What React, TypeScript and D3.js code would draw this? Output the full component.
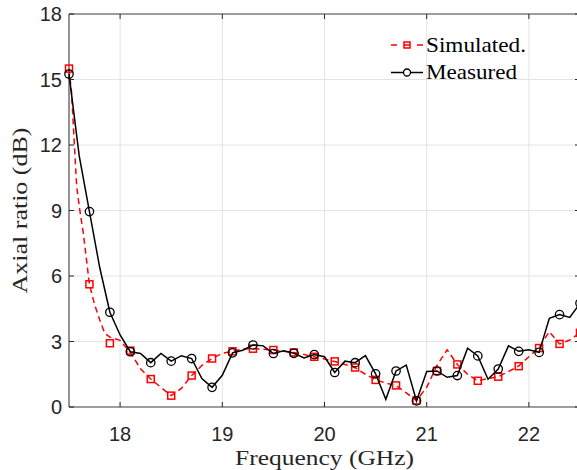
import React from "react";
import * as d3 from "d3";

// Frequencies (GHz) for the line samples
const freqs = [
  17.5, 17.6, 17.7, 17.8, 17.9, 18.0, 18.1, 18.2, 18.3, 18.4, 18.5, 18.6, 18.7, 18.8, 18.9, 19.0,
  19.1, 19.2, 19.3, 19.4, 19.5, 19.6, 19.7, 19.8, 19.9, 20.0, 20.1, 20.2, 20.3, 20.4, 20.5, 20.6,
  20.7, 20.8, 20.9, 21.0, 21.1, 21.2, 21.3, 21.4, 21.5, 21.6, 21.7, 21.8, 21.9, 22.0, 22.1, 22.2,
  22.3, 22.4, 22.5,
];

// Measured axial ratio (dB) at freqs
const measured = [
  15.25, 11.5, 8.95, 6.4, 4.34, 3.3, 2.53, 2.45, 2.03, 2.45, 2.1, 2.35, 2.22, 1.3, 0.9, 1.45,
  2.48, 2.6, 2.84, 2.8, 2.45, 2.58, 2.46, 2.25, 2.4, 2.3, 1.58, 2.1, 2.03, 2.35, 1.52, 0.35,
  1.65, 1.92, 0.28, 1.63, 1.65, 1.36, 1.44, 2.69, 2.34, 1.27, 1.74, 2.8, 2.55, 2.62, 2.5, 4.06,
  4.23, 4.1, 4.75,
];

// Simulated curve samples (GHz, dB)
const simFreqs = [
  17.5, 17.525, 17.575, 17.6, 17.64, 17.7, 17.75, 17.8, 17.85, 17.9, 18.0, 18.1, 18.2, 18.3, 18.4,
  18.5, 18.6, 18.7, 18.8, 18.9, 19.0, 19.1, 19.2, 19.3, 19.4, 19.5, 19.6, 19.7, 19.8, 19.9, 20.0,
  20.1, 20.2, 20.3, 20.4, 20.5, 20.6, 20.7, 20.8, 20.9, 21.0, 21.1, 21.2, 21.3, 21.4, 21.5, 21.6,
  21.7, 21.8, 21.9, 22.0, 22.1, 22.2, 22.3, 22.4, 22.5,
];
const simulated = [
  15.5, 14.4, 10.1, 9.2, 7.96, 5.62, 4.7, 4.0, 3.37, 3.2, 3.05, 2.5, 1.75, 1.28, 0.9,
  0.52, 0.85, 1.44, 1.9, 2.22, 2.46, 2.55, 2.65, 2.68, 2.65, 2.6, 2.55, 2.5, 2.4, 2.3, 2.2,
  2.08, 1.95, 1.8, 1.5, 1.24, 1.1, 0.98, 0.65, 0.3, 0.9, 1.9, 2.62, 1.95, 1.5, 1.2, 1.3,
  1.39, 1.62, 1.88, 2.3, 2.73, 3.45, 2.89, 3.07, 3.4,
];

// Marker positions
const markerFreqs = [
  17.5, 17.7, 17.9, 18.1, 18.3, 18.5, 18.7, 18.9, 19.1, 19.3, 19.5, 19.7, 19.9, 20.1, 20.3,
  20.5, 20.7, 20.9, 21.1, 21.3, 21.5, 21.7, 21.9, 22.1, 22.3, 22.5,
];
const simMarkers = [
  15.5, 5.62, 2.92, 2.58, 1.28, 0.52, 1.44, 2.22, 2.55, 2.67, 2.61, 2.5, 2.3, 2.09, 1.81,
  1.24, 0.99, 0.3, 1.65, 1.95, 1.2, 1.39, 1.87, 2.7, 2.89, 3.4,
];
const measMarkers = [
  15.25, 8.95, 4.34, 2.53, 2.03, 2.1, 2.22, 0.9, 2.48, 2.84, 2.45, 2.46, 2.4, 1.58, 2.03,
  1.52, 1.65, 0.28, 1.65, 1.44, 2.34, 1.74, 2.55, 2.5, 4.23, 4.75,
];

const xTicks = [18, 19, 20, 21, 22];
const yTicks = [0, 3, 6, 9, 12, 15, 18];
const legendLabels = ["Simulated.", "Measured"];

const W = 577;
const H = 470;
const left = 69;
const right = 580;
const top = 14;
const bottom = 407;

export default function App() {
  const x = d3.scaleLinear().domain([17.5, 22.5]).range([left, right]);
  const y = d3.scaleLinear().domain([0, 18]).range([bottom, top]);

  const measLine = d3
    .line<number>()
    .x((_, i) => x(freqs[i]))
    .y((d) => y(d))(measured) as string;
  const simLine = d3
    .line<number>()
    .x((_, i) => x(simFreqs[i]))
    .y((d) => y(d))(simulated) as string;

  const serif = "'Liberation Serif', 'DejaVu Serif', serif";
  const sans = "'Liberation Sans', Arial, sans-serif";
  const sq = 7;

  return (
    <div style={{ position: "fixed", left: 0, top: 0 }}>
      <svg width={W} height={H} style={{ display: "block", background: "#fff" }}>
        <rect x={0} y={0} width={W} height={H} fill="#fff" />
        {/* grid */}
        {xTicks.map((t) => (
          <line key={"gx" + t} x1={x(t)} x2={x(t)} y1={top} y2={bottom} stroke="#e3e3e3" strokeWidth={1} />
        ))}
        {yTicks.map((t) => (
          <line key={"gy" + t} x1={left} x2={right} y1={y(t)} y2={y(t)} stroke="#e3e3e3" strokeWidth={1} />
        ))}
        {/* axes box */}
        <line x1={left} x2={right} y1={top} y2={top} stroke="#4a4a4a" strokeWidth={1} />
        <line x1={left} x2={right} y1={bottom} y2={bottom} stroke="#4a4a4a" strokeWidth={1} />
        <line x1={left} x2={left} y1={top} y2={bottom} stroke="#262626" strokeWidth={1} />
        <line x1={right} x2={right} y1={top} y2={bottom} stroke="#262626" strokeWidth={1} />
        {/* ticks */}
        {xTicks.map((t) => (
          <g key={"tx" + t}>
            <line x1={x(t)} x2={x(t)} y1={bottom} y2={bottom - 5} stroke="#262626" />
            <line x1={x(t)} x2={x(t)} y1={top} y2={top + 5} stroke="#262626" />
            <text x={x(t)} y={bottom + 34} textAnchor="middle" fontFamily={sans} fontSize={20} fill="#262626">
              {t}
            </text>
          </g>
        ))}
        {yTicks.map((t) => (
          <g key={"ty" + t}>
            <line x1={left} x2={left + 5} y1={y(t)} y2={y(t)} stroke="#262626" />
            <line x1={right} x2={right - 5} y1={y(t)} y2={y(t)} stroke="#262626" />
            <text x={left - 7} y={y(t) + 7} textAnchor="end" fontFamily={sans} fontSize={20} fill="#262626">
              {t}
            </text>
          </g>
        ))}
        {/* simulated */}
        <path d={simLine} fill="none" stroke="#ff0000" strokeWidth={1.5} strokeDasharray="6,4" />
        {markerFreqs.map((f, i) => (
          <rect
            key={"sm" + i}
            x={x(f) - sq / 2}
            y={y(simMarkers[i]) - sq / 2}
            width={sq}
            height={sq}
            fill="none"
            stroke="#ff0000"
            strokeWidth={1.5}
          />
        ))}
        {/* measured */}
        <path d={measLine} fill="none" stroke="#000" strokeWidth={1.5} />
        {markerFreqs.map((f, i) => (
          <circle key={"mm" + i} cx={x(f)} cy={y(measMarkers[i])} r={4.2} fill="none" stroke="#000" strokeWidth={1.3} />
        ))}
        {/* legend */}
        <g>
          <line x1={391} x2={423} y1={45} y2={45} stroke="#ff0000" strokeWidth={1.5} strokeDasharray="6,7" />
          <rect x={407 - 3} y={45 - 3} width={6} height={6} fill="none" stroke="#ff0000" strokeWidth={1.5} />
          <text x={426} y={52} fontFamily={serif} fontSize={21} fill="#000" textLength={100} lengthAdjust="spacingAndGlyphs">
            {legendLabels[0]}
          </text>
          <line x1={391} x2={423} y1={72.5} y2={72.5} stroke="#000" strokeWidth={1.5} />
          <circle cx={407} cy={72.5} r={3.5} fill="#fff" stroke="#000" strokeWidth={1.3} />
          <text x={426} y={79} fontFamily={serif} fontSize={21} fill="#000" textLength={91} lengthAdjust="spacingAndGlyphs">
            {legendLabels[1]}
          </text>
        </g>
        {/* axis labels */}
        <text x={(left + right) / 2} y={465} textAnchor="middle" fontFamily={serif} fontSize={22} fill="#262626" textLength={179} lengthAdjust="spacingAndGlyphs">
          Frequency (GHz)
        </text>
        <text
          transform={`translate(27,${(top + bottom) / 2}) rotate(-90)`}
          textAnchor="middle"
          fontFamily={serif}
          fontSize={22}
          fill="#262626"
          textLength={166}
          lengthAdjust="spacingAndGlyphs"
        >
          Axial ratio (dB)
        </text>
      </svg>
    </div>
  );
}
